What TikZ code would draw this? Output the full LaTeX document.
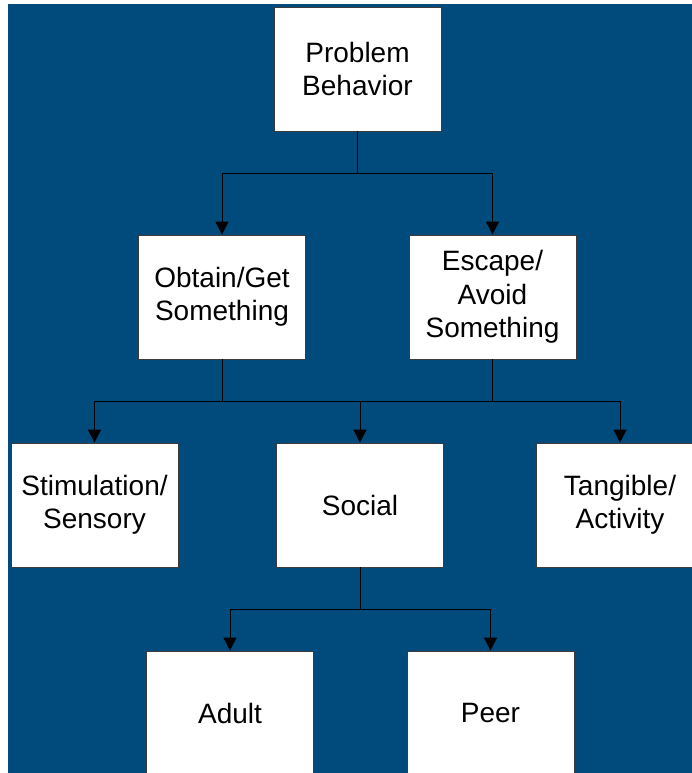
\documentclass[tikz,border=0pt]{standalone}
\usepackage{fontspec}
\setmainfont{Liberation Sans}
\usetikzlibrary{arrows.meta}
\definecolor{navy}{RGB}{0,74,124}
\definecolor{edgegray}{RGB}{60,60,60}
\tikzset{
  box/.style={draw=edgegray, line width=0.8bp, fill=white, minimum width=167bp,
    minimum height=124bp, align=center, inner sep=0pt,
    font=\fontsize{28bp}{33.5bp}\selectfont},
  link/.style={draw=black, line width=0.9bp},
  arr/.style={link, -{Triangle[length=13bp,width=13bp]}}
}
\begin{document}
\begin{tikzpicture}[x=1bp, y=-1bp]
  \useasboundingbox (0,0) rectangle (692,773);
  \clip (0,0) rectangle (692,773);
  % page backdrop
  \fill[white] (0,0) rectangle (692,773);
  \fill[navy] (8,4) rectangle (692,773);

  % boxes
  \node[box] (pb)    at (357.5,69)  {Problem\\Behavior};
  \node[box] (obt)   at (222,297)   {Obtain/Get\\Something};
  \node[box] (esc)   at (492.5,297) {Escape/\\Avoid\\Something};
  \node[box] (stim)  at (94.5,505)  {Stimulation/\\Sensory};
  \node[box] (soc)   at (360,505)   {Social};
  \node[box] (tang)  at (620,505)   {Tangible/\\Activity};
  \node[box] (adult) at (230,713)   {Adult};
  \node[box] (peer)  at (490.5,713) {Peer};

  % junction points of the bus lines
  \path (pb.south)  ++(0,42) coordinate (j1);
  \path (obt.south) ++(0,42) coordinate (j2);
  \path (esc.south) ++(0,42) coordinate (j3);
  \path (soc.south) ++(0,42) coordinate (j4);

  % first level
  \draw[link] (pb.south) -- (j1);
  \draw[arr] (j1) -| (obt.north);
  \draw[arr] (j1) -| (esc.north);

  % second level
  \draw[link] (obt.south) -- (j2);
  \draw[link] (esc.south) -- (j3);
  \draw[link] (j2) -- (j3);
  \draw[arr] (j2) -| (stim.north);
  \draw[arr] (j3) -| (tang.north);
  \draw[arr] (soc.north |- j2) -- (soc.north);

  % third level
  \draw[link] (soc.south) -- (j4);
  \draw[arr] (j4) -| (adult.north);
  \draw[arr] (j4) -| (peer.north);
\end{tikzpicture}
\end{document}
